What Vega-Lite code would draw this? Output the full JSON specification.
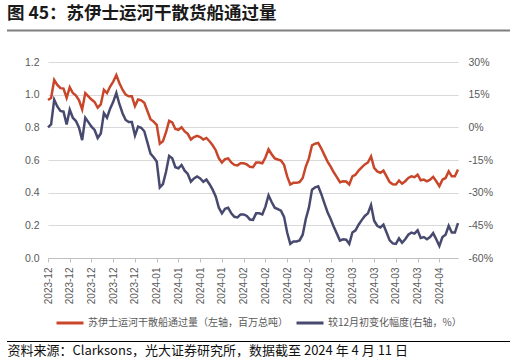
{
  "$schema": "https://vega.github.io/schema/vega-lite/v6.json",
  "width": 410,
  "height": 196,
  "autosize": "none",
  "padding": {"left": 48, "top": 62, "right": 58, "bottom": 105},
  "background": "white",
  "config": {"view": {"stroke": null}, "font": "Noto Sans CJK SC", "axisX": {"labelOverlap": false}},
  "title": {"text": "图 45：苏伊士运河干散货船通过量", "anchor": "start", "frame": "group", "dx": -41, "dy": 16, "fontSize": 17.5, "fontWeight": "bold", "color": "#1a1a1a", "font": "Noto Sans CJK SC", "offset": 5, "baseline": "bottom"},
  "data": {"values": [
    {"d":"2023-12-01","v":0.967,"p":0},{"d":"2023-12-02","v":0.98,"p":1.3},{"d":"2023-12-03","v":1.09,"p":12.7},{"d":"2023-12-04","v":1.06,"p":9.6},{"d":"2023-12-05","v":1.04,"p":7.5},{"d":"2023-12-06","v":1.037,"p":7.2},{"d":"2023-12-07","v":0.98,"p":1.3},{"d":"2023-12-08","v":1.045,"p":8.1},{"d":"2023-12-09","v":1.01,"p":4.4},{"d":"2023-12-10","v":0.995,"p":2.9},
    {"d":"2023-12-11","v":0.965,"p":-0.2},{"d":"2023-12-12","v":0.91,"p":-5.9},{"d":"2023-12-13","v":1.01,"p":4.4},{"d":"2023-12-14","v":0.99,"p":2.4},{"d":"2023-12-15","v":0.97,"p":0.3},{"d":"2023-12-16","v":0.955,"p":-1.2},{"d":"2023-12-17","v":0.92,"p":-4.9},{"d":"2023-12-18","v":0.94,"p":-2.8},{"d":"2023-12-19","v":1.03,"p":6.5},{"d":"2023-12-20","v":1.01,"p":4.4},
    {"d":"2023-12-21","v":1.05,"p":8.6},{"d":"2023-12-22","v":1.08,"p":11.7},{"d":"2023-12-23","v":1.12,"p":15.8},{"d":"2023-12-24","v":1.07,"p":10.6},{"d":"2023-12-25","v":1.03,"p":6.5},{"d":"2023-12-26","v":1.0,"p":3.4},{"d":"2023-12-27","v":0.99,"p":2.4},{"d":"2023-12-28","v":0.99,"p":2.4},{"d":"2023-12-29","v":0.93,"p":-3.8},{"d":"2023-12-30","v":0.97,"p":0.3},
    {"d":"2023-12-31","v":0.965,"p":-0.2},{"d":"2024-01-01","v":0.95,"p":-1.8},{"d":"2024-01-02","v":0.90,"p":-6.9},{"d":"2024-01-03","v":0.85,"p":-12.1},{"d":"2024-01-04","v":0.835,"p":-13.7},{"d":"2024-01-05","v":0.815,"p":-15.7},{"d":"2024-01-06","v":0.70,"p":-27.6},{"d":"2024-01-07","v":0.715,"p":-26.1},{"d":"2024-01-08","v":0.77,"p":-20.4},{"d":"2024-01-09","v":0.84,"p":-13.1},
    {"d":"2024-01-10","v":0.83,"p":-14.2},{"d":"2024-01-11","v":0.79,"p":-18.3},{"d":"2024-01-12","v":0.785,"p":-18.8},{"d":"2024-01-13","v":0.80,"p":-17.3},{"d":"2024-01-14","v":0.775,"p":-19.9},{"d":"2024-01-15","v":0.76,"p":-21.4},{"d":"2024-01-16","v":0.725,"p":-25.0},{"d":"2024-01-17","v":0.74,"p":-23.5},{"d":"2024-01-18","v":0.748,"p":-22.6},{"d":"2024-01-19","v":0.74,"p":-23.5},
    {"d":"2024-01-20","v":0.725,"p":-25.0},{"d":"2024-01-21","v":0.735,"p":-24.0},{"d":"2024-01-22","v":0.715,"p":-26.1},{"d":"2024-01-23","v":0.69,"p":-28.6},{"d":"2024-01-24","v":0.66,"p":-31.7},{"d":"2024-01-25","v":0.61,"p":-36.9},{"d":"2024-01-26","v":0.585,"p":-39.5},{"d":"2024-01-27","v":0.605,"p":-37.4},{"d":"2024-01-28","v":0.61,"p":-36.9},{"d":"2024-01-29","v":0.585,"p":-39.5},
    {"d":"2024-01-30","v":0.57,"p":-41.1},{"d":"2024-01-31","v":0.567,"p":-41.4},{"d":"2024-02-01","v":0.58,"p":-40.0},{"d":"2024-02-02","v":0.58,"p":-40.0},{"d":"2024-02-03","v":0.573,"p":-40.7},{"d":"2024-02-04","v":0.558,"p":-42.3},{"d":"2024-02-05","v":0.556,"p":-42.5},{"d":"2024-02-06","v":0.585,"p":-39.5},{"d":"2024-02-07","v":0.585,"p":-39.5},{"d":"2024-02-08","v":0.58,"p":-40.0},
    {"d":"2024-02-09","v":0.615,"p":-36.4},{"d":"2024-02-10","v":0.665,"p":-31.2},{"d":"2024-02-11","v":0.635,"p":-34.3},{"d":"2024-02-12","v":0.61,"p":-36.9},{"d":"2024-02-13","v":0.603,"p":-37.6},{"d":"2024-02-14","v":0.597,"p":-38.3},{"d":"2024-02-15","v":0.57,"p":-41.1},{"d":"2024-02-16","v":0.50,"p":-48.3},{"d":"2024-02-17","v":0.45,"p":-53.5},{"d":"2024-02-18","v":0.46,"p":-52.4},
    {"d":"2024-02-19","v":0.46,"p":-52.4},{"d":"2024-02-20","v":0.465,"p":-51.9},{"d":"2024-02-21","v":0.49,"p":-49.3},{"d":"2024-02-22","v":0.56,"p":-42.1},{"d":"2024-02-23","v":0.61,"p":-36.9},{"d":"2024-02-24","v":0.69,"p":-28.6},{"d":"2024-02-25","v":0.70,"p":-27.6},{"d":"2024-02-26","v":0.705,"p":-27.1},{"d":"2024-02-27","v":0.67,"p":-30.7},{"d":"2024-02-28","v":0.63,"p":-34.9},
    {"d":"2024-02-29","v":0.59,"p":-39.0},{"d":"2024-03-01","v":0.56,"p":-42.1},{"d":"2024-03-02","v":0.525,"p":-45.7},{"d":"2024-03-03","v":0.495,"p":-48.8},{"d":"2024-03-04","v":0.464,"p":-52.0},{"d":"2024-03-05","v":0.47,"p":-51.4},{"d":"2024-03-06","v":0.468,"p":-51.6},{"d":"2024-03-07","v":0.45,"p":-53.5},{"d":"2024-03-08","v":0.50,"p":-48.3},{"d":"2024-03-09","v":0.51,"p":-47.3},
    {"d":"2024-03-10","v":0.535,"p":-44.7},{"d":"2024-03-11","v":0.555,"p":-42.6},{"d":"2024-03-12","v":0.573,"p":-40.7},{"d":"2024-03-13","v":0.585,"p":-39.5},{"d":"2024-03-14","v":0.622,"p":-35.7},{"d":"2024-03-15","v":0.552,"p":-42.9},{"d":"2024-03-16","v":0.53,"p":-45.2},{"d":"2024-03-17","v":0.522,"p":-46.0},{"d":"2024-03-18","v":0.535,"p":-44.7},{"d":"2024-03-19","v":0.50,"p":-48.3},
    {"d":"2024-03-20","v":0.465,"p":-51.9},{"d":"2024-03-21","v":0.452,"p":-53.3},{"d":"2024-03-22","v":0.45,"p":-53.5},{"d":"2024-03-23","v":0.474,"p":-51.0},{"d":"2024-03-24","v":0.455,"p":-53.0},{"d":"2024-03-25","v":0.47,"p":-51.4},{"d":"2024-03-26","v":0.49,"p":-49.3},{"d":"2024-03-27","v":0.50,"p":-48.3},{"d":"2024-03-28","v":0.495,"p":-48.8},{"d":"2024-03-29","v":0.51,"p":-47.3},
    {"d":"2024-03-30","v":0.476,"p":-50.8},{"d":"2024-03-31","v":0.48,"p":-50.4},{"d":"2024-04-01","v":0.47,"p":-51.4},{"d":"2024-04-02","v":0.48,"p":-50.4},{"d":"2024-04-03","v":0.497,"p":-48.6},{"d":"2024-04-04","v":0.47,"p":-51.4},{"d":"2024-04-05","v":0.44,"p":-54.5},{"d":"2024-04-06","v":0.48,"p":-50.4},{"d":"2024-04-07","v":0.49,"p":-49.3},{"d":"2024-04-08","v":0.53,"p":-45.2},
    {"d":"2024-04-09","v":0.50,"p":-48.3},{"d":"2024-04-10","v":0.50,"p":-48.3},{"d":"2024-04-11","v":0.542,"p":-44.0}
  ]},
  "encoding": {
    "x": {"field": "d", "type": "temporal",
      "scale": {"type": "utc", "domain": [{"year": 2023, "month": 12, "date": 1, "utc": true}, {"year": 2024, "month": 4, "date": 11, "utc": true}]},
      "axis": {
        "values": [
          {"year": 2023, "month": 12, "date": 1, "utc": true}, {"year": 2023, "month": 12, "date": 8, "utc": true}, {"year": 2023, "month": 12, "date": 15, "utc": true}, {"year": 2023, "month": 12, "date": 22, "utc": true}, {"year": 2023, "month": 12, "date": 29, "utc": true},
          {"year": 2024, "month": 1, "date": 5, "utc": true}, {"year": 2024, "month": 1, "date": 12, "utc": true}, {"year": 2024, "month": 1, "date": 19, "utc": true}, {"year": 2024, "month": 1, "date": 26, "utc": true},
          {"year": 2024, "month": 2, "date": 2, "utc": true}, {"year": 2024, "month": 2, "date": 9, "utc": true}, {"year": 2024, "month": 2, "date": 16, "utc": true}, {"year": 2024, "month": 2, "date": 23, "utc": true},
          {"year": 2024, "month": 3, "date": 1, "utc": true}, {"year": 2024, "month": 3, "date": 8, "utc": true}, {"year": 2024, "month": 3, "date": 15, "utc": true}, {"year": 2024, "month": 3, "date": 22, "utc": true}, {"year": 2024, "month": 3, "date": 29, "utc": true},
          {"year": 2024, "month": 4, "date": 5, "utc": true}
        ],
        "labelExpr": "utcFormat(datum.value, '%Y-%m')",
        "labelAngle": 270, "labelAlign": "right", "labelBaseline": "middle", "labelFontSize": 10, "labelColor": "#595959", "labelFont": "Liberation Sans", "labelPadding": 5, "labelOverlap": false,
        "tickColor": "#bfbfbf", "tickSize": 4, "domainColor": "#bfbfbf", "grid": false,
        "title": "资料来源：Clarksons，光大证券研究所，数据截至 2024 年 4 月 11 日",
        "titleFontSize": 13, "titleFontWeight": "normal", "titleColor": "#111111", "titleX": -41, "titleY": 92, "titleAlign": "left", "titleBaseline": "middle", "titleAngle": 0
      }
    }
  },
  "layer": [
    {
      "mark": {"type": "line", "strokeWidth": 2.5},
      "encoding": {
        "y": {"field": "v", "type": "quantitative", "scale": {"domain": [0, 1.2]},
          "axis": {"orient": "left", "values": [0, 0.2, 0.4, 0.6, 0.8, 1.0, 1.2], "format": ".1f", "grid": true, "gridColor": "#d9d9d9", "domain": false, "ticks": false, "labelPadding": 9, "labelColor": "#595959", "labelFontSize": 10.5, "labelFont": "Liberation Sans", "title": null}},
        "color": {"datum": "苏伊士运河干散船通过量（左轴，百万总吨）",
          "scale": {"domain": ["苏伊士运河干散船通过量（左轴，百万总吨）", "较12月初变化幅度(右轴，%）"], "range": ["#C8472B", "#474A6E"]},
          "legend": {"orient": "none", "legendX": 7, "legendY": 246, "direction": "horizontal", "symbolType": "stroke", "symbolSize": 729, "symbolStrokeWidth": 3, "labelFontSize": 10, "labelColor": "#595959", "labelLimit": 320, "columnPadding": 2, "labelOffset": 3, "title": null}}
      }
    },
    {
      "mark": {"type": "line", "strokeWidth": 2.5},
      "encoding": {
        "y": {"field": "p", "type": "quantitative", "scale": {"domain": [-60, 30]},
          "axis": {"orient": "right", "values": [-60, -45, -30, -15, 0, 15, 30], "labelExpr": "datum.value + '%'", "grid": false, "domain": false, "ticks": false, "labelPadding": 10, "labelColor": "#595959", "labelFontSize": 10.5, "labelFont": "Liberation Sans", "title": null}},
        "color": {"datum": "较12月初变化幅度(右轴，%）"}
      }
    },
    {
      "data": {"values": [{}]},
      "mark": {"type": "rule", "stroke": "#7f7f7f", "strokeWidth": 2},
      "encoding": {"x": {"value": -41}, "x2": {"value": 462}, "y": {"value": -31.5}}
    },
    {
      "data": {"values": [{}]},
      "mark": {"type": "rule", "stroke": "#000000", "strokeWidth": 1},
      "encoding": {"x": {"value": -41}, "x2": {"value": 462}, "y": {"value": 279.5}}
    }
  ],
  "resolve": {"scale": {"y": "independent"}}
}
